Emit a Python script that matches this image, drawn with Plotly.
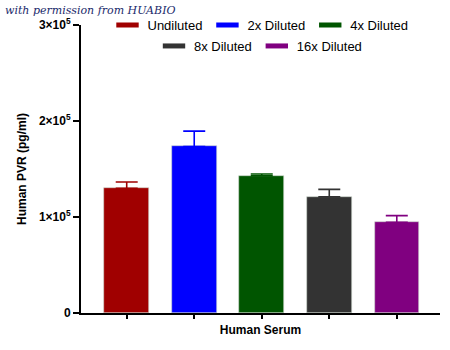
import plotly.graph_objects as go

categories = ["Undiluted", "2x Diluted", "4x Diluted", "8x Diluted", "16x Diluted"]
values = [130000, 173500, 143000, 121000, 94500]
errors = [6500, 16000, 1800, 7800, 6900]
colors = ["#A00000", "#0000FF", "#005500", "#333333", "#800080"]
ytick_vals = [0, 100000, 200000, 300000]
ytick_text = ["0", "1×10<sup>5</sup>", "2×10<sup>5</sup>", "3×10<sup>5</sup>"]

W, H = 450, 350
L, R, T, B = 81, 10, 25, 37
pw, ph = W - L - R, H - T - B

fig = go.Figure()
for i, (c, v, e, col) in enumerate(zip(categories, values, errors, colors)):
    fig.add_trace(go.Bar(
        x=[i], y=[v], width=0.66, marker=dict(color=col, line=dict(width=0.6, color="#cfd8cf")),
        error_y=dict(type="data", array=[e], arrayminus=[0], symmetric=False,
                     color=col, thickness=1.6, width=11),
        showlegend=False, name=c,
    ))
    fig.add_trace(go.Scatter(
        x=[None], y=[None], mode="markers",
        marker=dict(symbol="line-ew", size=16, line=dict(color=col, width=7)),
        name=c, legend="legend" if i < 3 else "legend2",
    ))

legend_common = dict(orientation="h", x=0.5, xanchor="center", yanchor="middle",
                     font=dict(size=13), bgcolor="rgba(0,0,0,0)", itemwidth=30)
fig.update_layout(
    width=W, height=H,
    margin=dict(l=L, r=R, t=T, b=B),
    plot_bgcolor="white", paper_bgcolor="white",
    font=dict(family="Liberation Sans, Arial, sans-serif", color="black", size=12),
    bargap=0,
    legend=dict(y=1.0, **legend_common),
    legend2=dict(y=(H - B - 46) / ph, **legend_common),
    xaxis=dict(range=[-0.677, 4.64], tickvals=list(range(len(categories))),
               showticklabels=False, ticks="outside", ticklen=4, tickwidth=2, tickcolor="black",
               showline=True, linecolor="black", linewidth=2, showgrid=False, zeroline=False,
               title=dict(text="<b>Human Serum</b>", font=dict(size=12), standoff=8)),
    yaxis=dict(range=[0, 300000], tickvals=ytick_vals, ticktext=ytick_text,
               tickfont=dict(size=12, weight="bold"),
               ticks="outside", ticklen=6, tickwidth=2, tickcolor="black",
               showline=True, linecolor="black", linewidth=2, showgrid=False, zeroline=False,
               title=dict(text="<b>Human PVR (pg/ml)</b>", font=dict(size=12), standoff=10)),
)

fig.add_annotation(
    text="with permission from HUABIO", xref="paper", yref="paper",
    x=(3 - L) / pw, y=(H - B - 11) / ph, xanchor="left", yanchor="middle", showarrow=False,
    font=dict(family="DejaVu Serif, serif", size=11, color="#1b2a6b", style="italic"),
)

fig.write_html("out.html")
